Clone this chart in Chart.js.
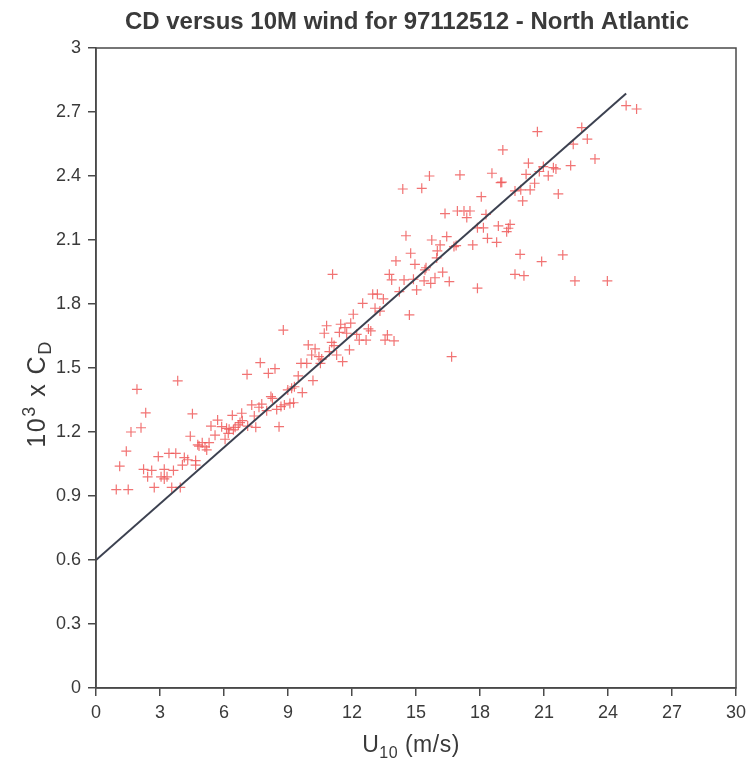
<!DOCTYPE html>
<html>
<head>
<meta charset="utf-8">
<script src="https://cdn.jsdelivr.net/npm/chart.js@4/dist/chart.umd.min.js"></script>
<style>
  html, body { margin: 0; padding: 0; background: #ffffff; }
  #wrap { width: 748px; height: 760px; }
</style>
</head>
<body>
<div id="wrap"><canvas id="c" width="748" height="760"></canvas></div>
<script>
const TITLE = 'CD versus 10M wind for 97112512 - North Atlantic';
const X_TITLE = ['U', '10', ' (m/s)'];
const Y_TITLE = ['10', '3', ' x C', 'D'];
const X_TICKS = [0, 3, 6, 9, 12, 15, 18, 21, 24, 27, 30];
const Y_TICKS = [0, 0.3, 0.6, 0.9, 1.2, 1.5, 1.8, 2.1, 2.4, 2.7, 3];
const Y_TICK_LABELS = ['0', '0.3', '0.6', '0.9', '1.2', '1.5', '1.8', '2.1', '2.4', '2.7', '3'];

// 10 m wind speed (m/s)
const windSpeed = [
  0.95, 1.51, 1.11, 1.42, 1.64, 2.11, 1.92, 2.33, 3.83, 2.23,
  2.61, 2.42, 2.73, 2.92, 3.05, 3.20, 3.33, 3.20, 3.42, 3.63,
  3.74, 3.55, 3.95, 4.05, 4.14, 4.30, 4.67, 4.67, 4.42, 4.52,
  4.77, 4.83, 4.98, 5.11, 5.30, 5.19, 5.39, 5.58, 5.70, 5.89,
  6.05, 6.20, 6.12, 6.24, 6.44, 6.52, 6.67, 6.39, 6.83, 6.75,
  6.86, 7.08, 7.30, 7.11, 7.49, 7.42, 7.77, 7.64, 8.00, 8.47,
  8.58, 8.67, 8.83, 9.09, 9.26, 8.20, 8.27, 8.99, 9.17, 9.30,
  9.67, 10.17, 9.48, 8.08, 8.39, 7.70, 9.61, 9.88, 10.52, 8.78,
  10.70, 9.95, 10.27, 11.05, 11.16, 10.94, 10.11, 10.45, 10.58, 10.81,
  11.47, 11.67, 11.41, 11.75, 11.94, 12.06, 12.22, 12.34, 12.66, 12.77,
  12.88, 11.88, 11.28, 11.56, 12.50, 13.08, 13.31, 12.97, 13.19, 13.47,
  13.66, 13.55, 13.97, 14.69, 14.22, 15.03, 13.75, 13.86, 14.44, 11.09,
  14.06, 14.95, 15.42, 15.38, 14.38, 15.27, 18.06, 19.64, 19.91, 20.00,
  16.36, 16.94, 17.25, 17.53, 17.38, 18.28, 17.88, 18.16, 18.86, 19.41,
  19.33, 19.25, 14.53, 16.44, 15.74, 18.35, 18.78, 16.13, 16.78, 16.88,
  17.66, 14.75, 16.00, 19.88, 15.47, 16.25, 15.69, 15.89, 16.56, 19.64,
  20.06, 17.88, 15.97, 24.85, 25.34, 20.69, 22.77, 23.03, 22.37, 19.07,
  23.39, 20.27, 22.25, 20.97, 21.44, 21.56, 20.78, 20.16, 21.20, 19.02,
  20.56, 20.35, 21.67, 20.89, 21.88, 22.45, 23.97, 16.67, 15.63, 17.06,
  18.56, 18.97, 14.88
];
// 10^3 x drag coefficient
const cdValues = [
  0.93, 0.93, 1.04, 1.11, 1.20, 1.22, 1.40, 1.29, 1.44, 1.025,
  1.02, 0.99, 0.94, 1.085, 0.99, 0.98, 0.99, 1.025, 1.10, 1.02,
  1.10, 0.94, 0.94, 1.045, 1.08, 1.07, 1.066, 1.045, 1.18, 1.285,
  1.14, 1.134, 1.15, 1.13, 1.15, 1.116, 1.228, 1.185, 1.256, 1.225,
  1.166, 1.194, 1.217, 1.213, 1.21, 1.222, 1.233, 1.278, 1.288, 1.244,
  1.253, 1.47, 1.327, 1.228, 1.222, 1.275, 1.331, 1.316, 1.30, 1.306,
  1.225, 1.319, 1.327, 1.334, 1.337, 1.366, 1.358, 1.397, 1.405, 1.412,
  1.385, 1.441, 1.463, 1.475, 1.497, 1.525, 1.522, 1.522, 1.522, 1.678,
  1.663, 1.608, 1.59, 1.62, 1.605, 1.577, 1.561, 1.553, 1.542, 1.698,
  1.705, 1.689, 1.667, 1.663, 1.71, 1.752, 1.658, 1.631, 1.631, 1.683,
  1.674, 1.585, 1.561, 1.53, 1.803, 1.78, 1.767, 1.846, 1.846, 1.824,
  1.655, 1.631, 1.627, 1.749, 1.858, 1.866, 1.939, 1.913, 1.913, 1.939,
  2.002, 1.986, 1.96, 1.908, 2.339, 2.342, 2.303, 2.33, 2.335, 2.283,
  2.224, 2.236, 2.236, 2.236, 2.205, 2.22, 2.157, 2.157, 2.166, 2.173,
  2.155, 2.139, 2.12, 2.116, 2.10, 2.108, 2.089, 2.077, 2.069, 2.074,
  2.077, 2.038, 2.049, 2.033, 1.97, 1.949, 1.897, 1.923, 1.905, 1.939,
  1.933, 1.874, 2.016, 2.73, 2.714, 2.608, 2.627, 2.573, 2.549, 2.522,
  2.48, 2.46, 2.449, 2.444, 2.439, 2.433, 2.421, 2.408, 2.401, 2.371,
  2.366, 2.335, 2.316, 1.999, 2.03, 1.908, 1.908, 1.553, 2.40, 2.405,
  2.413, 2.369, 1.916
];
// least-squares fit line end points
const fitX = [0, 24.85];
const fitY = [0.6, 2.787];

const AXIS_COLOR = '#4a4a4a';
const TEXT_COLOR = '#3a3a3a';
const FONT = '"Liberation Sans", Arial, Helvetica, sans-serif';

const scatterData = windSpeed.map((x, i) => ({ x: x, y: cdValues[i] }));
const fitData = fitX.map((x, i) => ({ x: x, y: fitY[i] }));

function drawRich(ctx, parts, x, y, align, spacing) {
  let total = 0;
  ctx.letterSpacing = (spacing || 0) + 'px';
  parts.forEach(p => { ctx.font = p.size + 'px ' + FONT; p.w = ctx.measureText(p.t).width; total += p.w; });
  let cx = align === 'center' ? x - total / 2 : x;
  ctx.textAlign = 'left';
  ctx.textBaseline = 'alphabetic';
  parts.forEach(p => {
    ctx.font = p.size + 'px ' + FONT;
    ctx.fillText(p.t, cx, y + p.dy);
    cx += p.w;
  });
  ctx.letterSpacing = '0px';
}

const decorPlugin = {
  id: 'decor',
  afterDraw(chart) {
    const ctx = chart.ctx;
    const a = chart.chartArea;
    ctx.save();
    ctx.strokeStyle = AXIS_COLOR;
    ctx.lineWidth = 1.5;
    ctx.strokeRect(a.left, a.top, a.right - a.left, a.bottom - a.top);
    ctx.fillStyle = TEXT_COLOR;
    ctx.font = 'bold 24px ' + FONT;
    ctx.textAlign = 'center';
    ctx.textBaseline = 'alphabetic';
    ctx.fillText(TITLE, 407, 29);
    drawRich(ctx, [
      { t: X_TITLE[0], size: 23, dy: 0 },
      { t: X_TITLE[1], size: 16, dy: 6 },
      { t: X_TITLE[2], size: 23, dy: 0 }
    ], 411, 752, 'center', 0.5);
    ctx.translate(45, 394);
    ctx.rotate(-Math.PI / 2);
    drawRich(ctx, [
      { t: Y_TITLE[0], size: 25, dy: 0 },
      { t: Y_TITLE[1], size: 18, dy: -10 },
      { t: Y_TITLE[2], size: 25, dy: 0 },
      { t: Y_TITLE[3], size: 18, dy: 6 }
    ], 0, 0, 'center', 1.5);
    ctx.restore();
  }
};

new Chart(document.getElementById('c'), {
  type: 'scatter',
  data: {
    datasets: [
      {
        label: 'CD',
        data: scatterData,
        pointStyle: 'cross',
        pointRadius: 5,
        pointBorderWidth: 1.2,
        borderColor: 'rgba(238, 90, 90, 0.85)',
        backgroundColor: 'rgba(238, 90, 90, 0.85)',
        order: 2
      },
      {
        label: 'fit',
        type: 'line',
        data: fitData,
        borderColor: '#3c4150',
        borderWidth: 2,
        pointRadius: 0,
        fill: false,
        order: 1
      }
    ]
  },
  options: {
    responsive: false,
    animation: false,
    layout: { padding: { top: 48, right: 12, bottom: 0, left: 0 } },
    plugins: {
      legend: { display: false },
      title: { display: false },
      tooltip: { enabled: false }
    },
    scales: {
      x: {
        type: 'linear',
        min: 0, max: 30,
        afterBuildTicks: s => { s.ticks = X_TICKS.map(v => ({ value: v })); },
        afterFit: s => { s.height = 72; s.paddingLeft = 0; s.paddingRight = 0; },
        ticks: {
          color: TEXT_COLOR,
          font: { family: FONT, size: 18 },
          padding: 6,
          maxRotation: 0,
          autoSkip: false,
          callback: v => String(v)
        },
        grid: { display: true, drawOnChartArea: false, drawTicks: true, tickLength: 8, color: AXIS_COLOR, lineWidth: 1.5 },
        border: { display: true, color: AXIS_COLOR, width: 1.5 }
      },
      y: {
        type: 'linear',
        min: 0, max: 3,
        afterBuildTicks: s => { s.ticks = Y_TICKS.map(v => ({ value: v })); },
        afterFit: s => { s.width = 96; s.paddingTop = 0; s.paddingBottom = 0; },
        ticks: {
          color: TEXT_COLOR,
          font: { family: FONT, size: 18 },
          padding: 7,
          autoSkip: false,
          callback: (v, i) => Y_TICK_LABELS[i]
        },
        grid: { display: true, drawOnChartArea: false, drawTicks: true, tickLength: 8, color: AXIS_COLOR, lineWidth: 1.5 },
        border: { display: true, color: AXIS_COLOR, width: 1.5 }
      }
    }
  },
  plugins: [decorPlugin]
});
</script>
</body>
</html>
